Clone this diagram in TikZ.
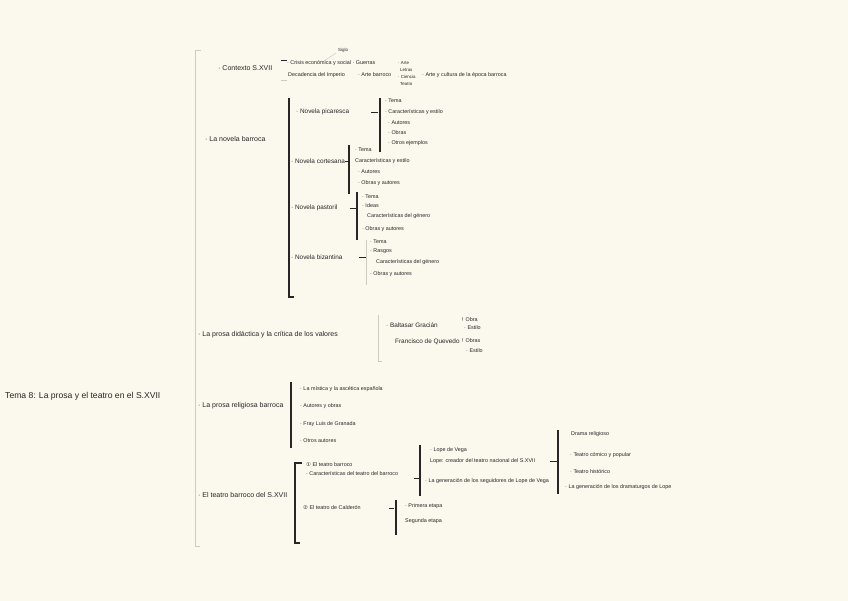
\documentclass[tikz,border=0pt]{standalone}
\usepackage{fontspec}
\setmainfont{Liberation Sans}
\newfontfamily\symfont{DejaVu Sans}
\definecolor{paper}{HTML}{FBF8EE}
\definecolor{ink}{HTML}{262626}
\definecolor{lite}{HTML}{CFCBC0}
\begin{document}
\begin{tikzpicture}[x=1pt,y=-1pt,
  br/.style={anchor=west,inner sep=0pt,text=ink,font=\fontsize{7}{8}\selectfont},
  txt/.style={anchor=west,inner sep=0pt,text=ink,font=\fontsize{6.4}{7.5}\selectfont},
  sm/.style={anchor=west,inner sep=0pt,text=ink,font=\fontsize{5.4}{6.4}\selectfont},
  tiny/.style={anchor=west,inner sep=0pt,text=ink,font=\fontsize{4.4}{5}\selectfont},
  root/.style={anchor=west,inner sep=0pt,text=ink,font=\fontsize{8.6}{10}\selectfont},
  bar/.style={draw=ink,line width=1.3pt},
  litebar/.style={draw=lite,line width=0.8pt},
  tickline/.style={draw=ink,line width=0.8pt}]
\fill[paper] (0,0) rectangle (848,601);
\useasboundingbox (0,0) rectangle (848,601);

% root
\node[root] (root) at (5,396) {Tema 8: La prosa y el teatro en el S.XVII};

% main bracket
\coordinate (mt) at (195,50); \coordinate (mb) at (195,546);
\draw[litebar] (mt) -- (mb);
\draw[litebar] (mt) -- ++(6,0);
\draw[litebar] (mb) -- ++(5,0);

% ---------- Branch 1
\node[br] (b1) at (218,68) {· Contexto S.XVII};
\coordinate (b1t) at (281,60); \coordinate (b1b) at (281,80);
\draw[tickline] (b1t) -- ++(6,0);
\draw[lite,line width=0.8pt] (b1b) -- ++(6,0);
\node[tiny] (b1s) at (338,50) {Siglo};
\draw[lite,line width=0.5pt] (336,53) -- (324,61);
\node[sm] (b1a) at (287,63) {· Crisis económica y social · Guerras};
\node[sm] (b1b1) at (288,75) {Decadencia del Imperio};
\node[sm] (b1c) at (358,75) {· Arte barroco};
\node[tiny] (b1d1) at (398,63) {· Arte};
\node[tiny] (b1d2) at (400,70) {Letras};
\node[tiny] (b1d3) at (398,77) {· Ciencia};
\node[tiny] (b1d4) at (400,84) {Teatro};
\node[sm] (b1e) at (422,75) {· Arte y cultura de la época barroca};

% ---------- Branch 2
\node[br] (b2) at (205,139) {· La novela barroca};
\draw[bar] (289,98) -- (289,297) -- ++(5,0);

\node[txt] (n1) at (296,112) {· Novela picaresca};
\draw[tickline] (371,112) -- (378,112);
\draw[bar] (380,98) -- (380,152);
\node[sm] (n1a) at (385,101) {· Tema};
\node[sm] (n1b) at (385,112) {· Características y estilo};
\node[sm] (n1c) at (388,123) {· Autores};
\node[sm] (n1d) at (388,133) {· Obras};
\node[sm] (n1e) at (388,143) {· Otros ejemplos};

\node[txt] (n2) at (291,161) {· Novela cortesana};
\draw[tickline] (345,161) -- (349,161);
\draw[bar] (349,145) -- (349,194);
\node[sm] (n2a) at (355,150) {· Tema};
\node[sm] (n2b) at (355,161) {Características y estilo};
\node[sm] (n2c) at (358,172) {· Autores};
\node[sm] (n2d) at (358,183) {· Obras y autores};

\node[txt] (n3) at (291,208) {· Novela pastoril};
\draw[tickline] (350,208) -- (357,208);
\draw[bar] (357,192) -- (357,240);
\node[sm] (n3a) at (362,197) {· Tema};
\node[sm] (n3b) at (362,206) {· Ideas};
\node[sm] (n3c) at (367,216) {Características del género};
\node[sm] (n3d) at (362,229) {· Obras y autores};

\node[txt] (n4) at (291,257) {· Novela bizantina};
\draw[tickline] (359,257) -- (366,257);
\draw[litebar] (366,240) -- (366,285);
\node[sm] (n4a) at (370,242) {· Tema};
\node[sm] (n4b) at (370,251) {· Rasgos};
\node[sm] (n4c) at (376,262) {Características del género};
\node[sm] (n4d) at (370,274) {· Obras y autores};

% ---------- Branch 3
\node[br] (b3) at (198,335) {· La prosa didáctica y la crítica de los valores};
\draw[litebar] (378,315) -- (378,361) -- ++(4,0);
\node[txt] (p1) at (386,325) {· Baltasar Gracián};
\node[sm] (p1a) at (462,320) {! Obra};
\node[sm] (p1b) at (464,328) {· Estilo};
\node[txt] (p2) at (395,342) {Francisco de Quevedo};
\node[sm] (p2a) at (462,341) {! Obras};
\node[sm] (p2b) at (466,351) {· Estilo};

% ---------- Branch 4
\node[br] (b4) at (198,406) {· La prosa religiosa barroca};
\draw[bar] (291,382) -- (291,448);
\node[sm] (r1) at (300,389) {· La mística y la ascética española};
\node[sm] (r2) at (300,406) {· Autores y obras};
\node[sm] (r3) at (300,424) {· Fray Luis de Granada};
\node[sm] (r4) at (300,441) {· Otros autores};

% ---------- Branch 5
\node[br] (b5) at (198,495) {· El teatro barroco del S.XVII};
\draw[bar] (302,463) -- (295,463) -- (295,543) -- (300,543);

\node[sm] (t1) at (306,465) {{\symfont ①} El teatro barroco};
\node[sm] (t1b) at (306,474) {· Características del teatro del barroco};
\draw[tickline] (414,478) -- (419,478);
\draw[bar] (420,445) -- (420,496);
\node[sm] (l1) at (430,450) {· Lope de Vega};
\node[sm] (l2) at (430,461) {Lope: creador del teatro nacional del S.XVII};
\node[sm] (l3) at (425,481) {· La generación de los seguidores de Lope de Vega};
\draw[tickline] (550,461) -- (557,461);
\draw[bar] (558,430) -- (558,494);
\node[sm] (d1) at (571,434) {Drama religioso};
\node[sm] (d2) at (570,455) {· Teatro cómico y popular};
\node[sm] (d3) at (570,472) {· Teatro histórico};
\node[sm] (d4) at (565,487) {· La generación de los dramaturgos de Lope};

\node[sm] (t2) at (303,508) {{\symfont ②} El teatro de Calderón};
\draw[tickline] (389,508) -- (394,508);
\draw[bar] (396,500) -- (396,535);
\node[sm] (c1) at (405,506) {· Primera etapa};
\node[sm] (c2) at (405,521) {Segunda etapa};
\end{tikzpicture}
\end{document}
